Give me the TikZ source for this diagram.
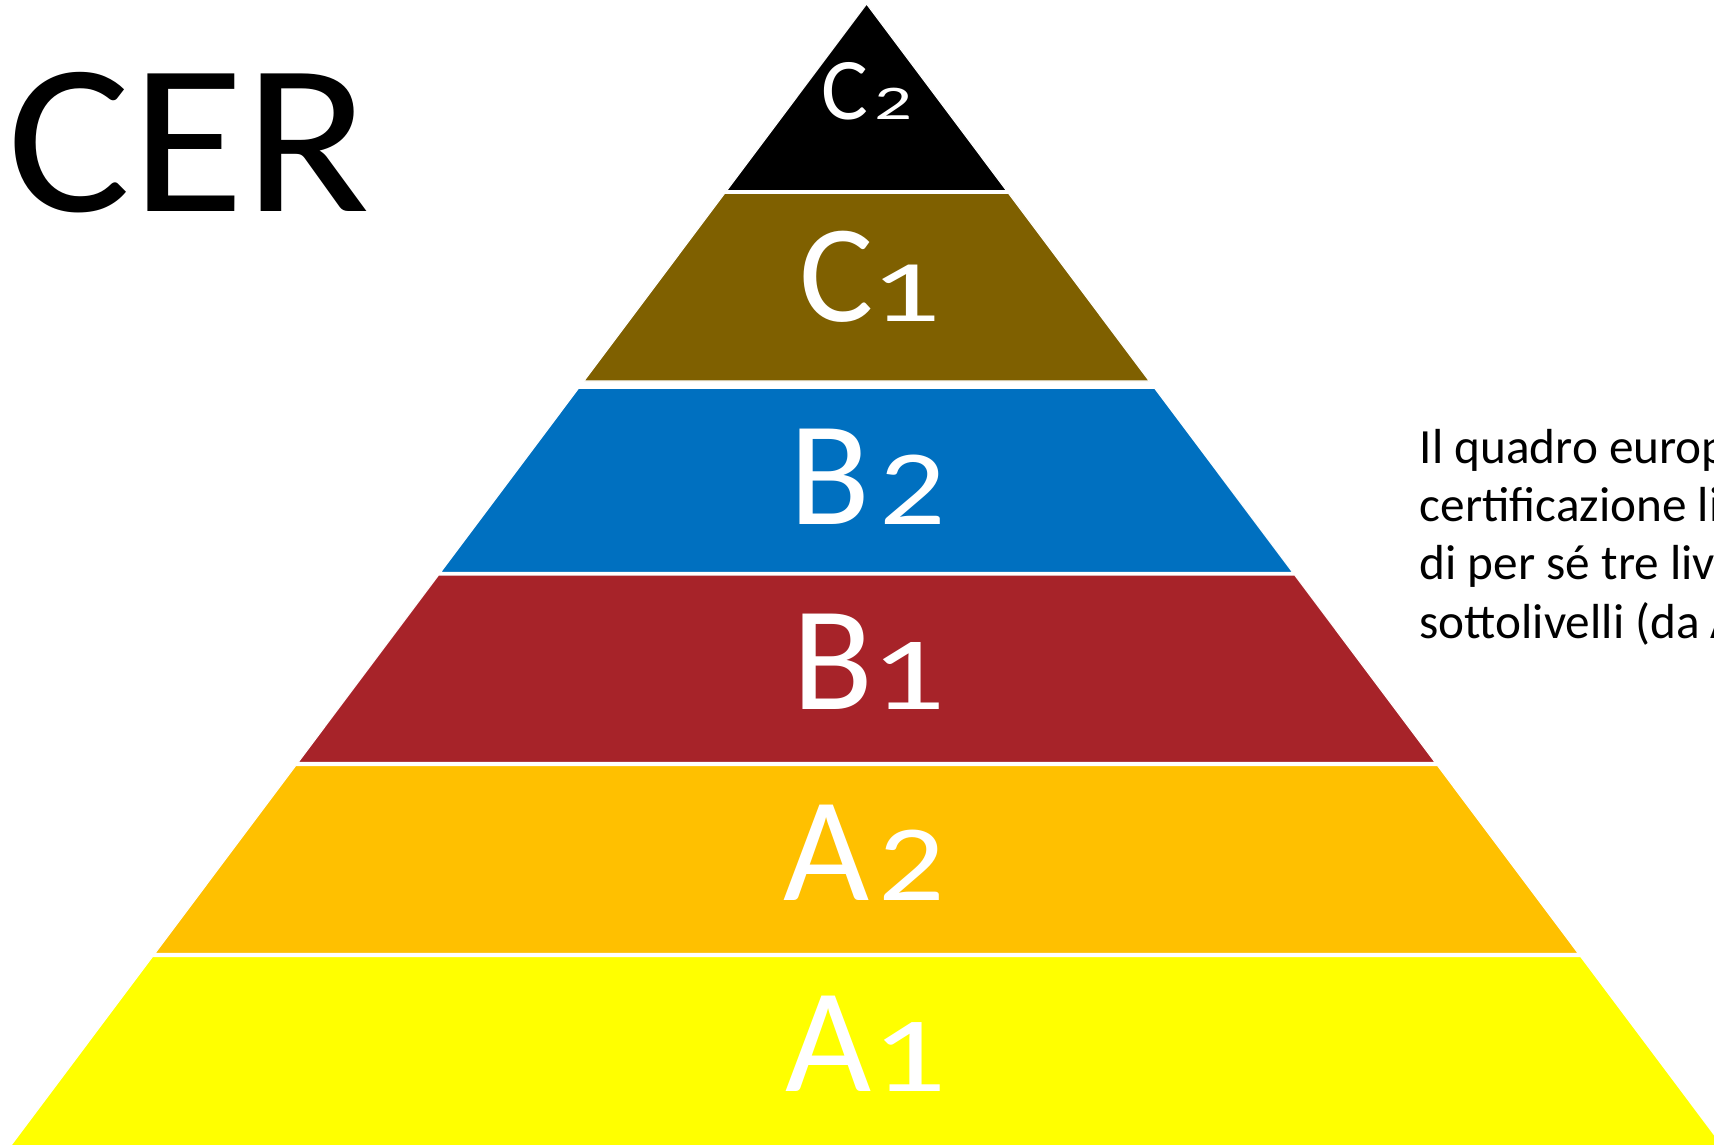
\documentclass[tikz,border=0pt]{standalone}
\usepackage{fontspec}
\setmainfont{Carlito}
\definecolor{cerbrown}{HTML}{7F6000}
\definecolor{cerblue}{HTML}{0070C0}
\definecolor{cerred}{HTML}{A72329}
\definecolor{ceramber}{HTML}{FFC000}
\definecolor{ceryellow}{HTML}{FFFF00}
\tikzset{
  bandlabel/.style={text=white, anchor=base, inner sep=0pt, font=\fontsize{42.3}{42.3}\selectfont},
}
% letter with a small figure after it
\newcommand{\lvname}[5][0pt]{#2\kern#1\scalebox{#4}[#5]{#3}}
\begin{document}
\begin{tikzpicture}[x=0.01cm,y=-0.01cm]
  \useasboundingbox (0,0) rectangle (1714,1144);
  \clip (0,0) rectangle (1714,1144);
  % Pyramid bands, top to bottom
  \foreach \yt/\yb/\col in {4/190.7/black, 193.3/381/cerbrown, 388.3/572.3/cerblue,
      575/762.3/cerred, 765.7/953.3/ceramber, 956.7/1150/ceryellow}
    \filldraw[fill=\col, draw=white, line width=0.3pt]
      ({866.6-0.7496*(\yt-4)},\yt) -- ({866.6+0.7496*(\yt-4)},\yt)
      -- ({866.6+0.7496*(\yb-4)},\yb) -- ({866.6-0.7496*(\yb-4)},\yb) -- cycle;
  % Level names
  \node[bandlabel, font=\fontsize{25}{25}\selectfont] (c2) at (867,119.3) {\lvname[1.5pt]{C}{2}{0.85}{0.55}};
  \node[bandlabel, font=\fontsize{39.6}{39.6}\selectfont] (c1) at (870,321.7) {\lvname[-1pt]{C}{1}{1.0}{0.63}};
  \node[bandlabel] (b2) at (868,524) {\lvname[2.5pt]{B}{2}{0.88}{0.72}};
  \node[bandlabel] (b1) at (869,709.3) {\lvname[-1pt]{B}{1}{1.0}{0.7}};
  \node[bandlabel] (a2) at (864,900.7) {\lvname[2.5pt]{A}{2}{0.88}{0.73}};
  \node[bandlabel] (a1) at (866,1091.7) {\lvname{A}{1}{1.0}{0.72}};
  % Title and side note
  \node[anchor=base west, inner sep=0pt, xscale=1.08, font=\fontsize{61}{61}\selectfont] (cer) at (7,211.7) {CER};
  \node[anchor=base west, inner sep=0pt, align=left, font=\fontsize{14}{16.5}\selectfont] (note)
    at (1419,638) {Il quadro europeo\\certificazione linguistica\\di per sé tre livelli\\sottolivelli (da A1};
\end{tikzpicture}
\end{document}
